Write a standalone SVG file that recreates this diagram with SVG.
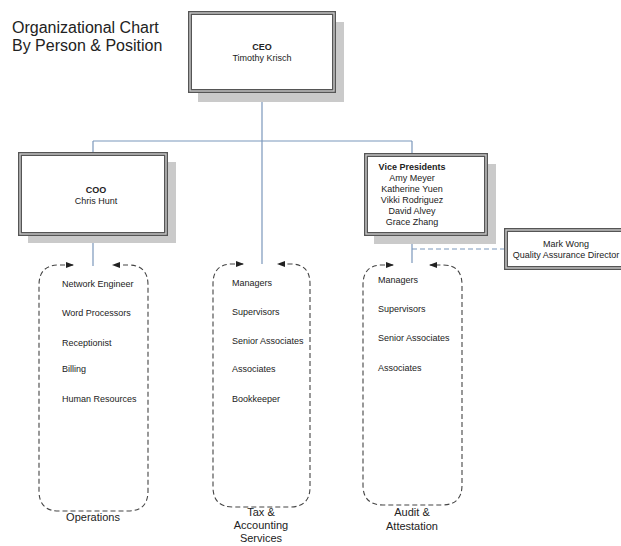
<svg xmlns="http://www.w3.org/2000/svg" width="621" height="546" viewBox="0 0 621 546">
<style>
text{font-family:"Liberation Sans",Arial,sans-serif;fill:#222}
.title{font-size:16px}
.bt{font-size:9px;text-anchor:middle}
.b{font-weight:bold}
.it{font-size:9px}
.lbl{font-size:11px;text-anchor:middle}
.sh{fill:#cacaca}
.o{fill:#fff;stroke:#555;stroke-width:4}
.i{fill:none;stroke:#c8c8c8;stroke-width:1.4}
.c{fill:none;stroke:#7b97bb;stroke-width:1.2}
.cd{fill:none;stroke:#7b97bb;stroke-width:1.2;stroke-dasharray:5 3}
.grp{fill:none;stroke:#444;stroke-width:1.1;stroke-dasharray:5 3;marker-start:url(#ar);marker-end:url(#ar)}
</style>
<defs>
<marker id="ar" markerUnits="userSpaceOnUse" markerWidth="8" markerHeight="6" refX="7" refY="3" orient="auto-start-reverse">
<path d="M0,0 L8,3 L0,6 z" fill="#222"/>
</marker>
</defs>
<rect width="621" height="546" fill="#fff"/>
<text class="title" x="12" y="33">Organizational Chart</text>
<text class="title" x="12" y="51">By Person &amp; Position</text>

<g id="connectors">
<path class="c" d="M262,91 V264"/>
<path class="c" d="M93,141 H412"/>
<path class="c" d="M93,141 V153"/>
<path class="c" d="M412,141 V155"/>
<path class="c" d="M93,234 V266"/>
<path class="c" d="M412,234 V263"/>
<path class="cd" d="M412,249 H505"/>
</g>

<g id="ceo">
<rect class="sh" x="198" y="22" width="146" height="80"/>
<rect class="o" x="190" y="13" width="144" height="78"/>
<rect class="i" x="190" y="13" width="144" height="78"/>
<text class="bt b" x="262" y="50">CEO</text>
<text class="bt" x="262" y="61">Timothy Krisch</text>
</g>

<g id="coo">
<rect class="sh" x="28" y="162" width="148" height="81"/>
<rect class="o" x="20" y="154" width="146" height="80"/>
<rect class="i" x="20" y="154" width="146" height="80"/>
<text class="bt b" x="96" y="193">COO</text>
<text class="bt" x="96" y="204">Chris Hunt</text>
</g>

<g id="vp">
<rect class="sh" x="374" y="164" width="122" height="80"/>
<rect class="o" x="366" y="155" width="120" height="79"/>
<rect class="i" x="366" y="155" width="120" height="79"/>
<text class="bt b" x="412" y="170">Vice Presidents</text>
<text class="bt" x="412" y="181">Amy Meyer</text>
<text class="bt" x="412" y="192">Katherine Yuen</text>
<text class="bt" x="412" y="203">Vikki Rodriguez</text>
<text class="bt" x="412" y="214">David Alvey</text>
<text class="bt" x="412" y="225">Grace Zhang</text>
</g>

<g id="markwong">
<rect class="o" x="506" y="230" width="130" height="38"/>
<rect class="i" x="506" y="230" width="130" height="38"/>
<text class="bt" x="566" y="247">Mark Wong</text>
<text class="bt" x="566" y="258">Quality Assurance Director</text>
</g>

<g id="operations">
<path class="grp" d="M73,265 H59 Q39,265 39,285 V491 Q39,511 59,511 H128 Q148,511 148,491 V285 Q148,265 128,265 H113"/>
<text class="it" x="62" y="287">Network Engineer</text>
<text class="it" x="62" y="316">Word Processors</text>
<text class="it" x="62" y="346">Receptionist</text>
<text class="it" x="62" y="372">Billing</text>
<text class="it" x="62" y="402">Human Resources</text>
<text class="lbl" x="93" y="521">Operations</text>
</g>

<g id="tax">
<path class="grp" d="M243,264 H232 Q213,264 213,284 V487 Q213,507 233,507 H290 Q310,507 310,487 V284 Q310,264 291,264 H278"/>
<text class="it" x="232" y="286">Managers</text>
<text class="it" x="232" y="315">Supervisors</text>
<text class="it" x="232" y="344">Senior Associates</text>
<text class="it" x="232" y="372">Associates</text>
<text class="it" x="232" y="402">Bookkeeper</text>
<text class="lbl" x="261" y="516">Tax &amp;</text>
<text class="lbl" x="261" y="529">Accounting</text>
<text class="lbl" x="261" y="542">Services</text>
</g>

<g id="audit">
<path class="grp" d="M393,265 H382 Q363,265 363,285 V485 Q363,505 383,505 H442 Q462,505 462,485 V285 Q462,265 443,265 H430"/>
<text class="it" x="378" y="283">Managers</text>
<text class="it" x="378" y="312">Supervisors</text>
<text class="it" x="378" y="341">Senior Associates</text>
<text class="it" x="378" y="371">Associates</text>
<text class="lbl" x="412" y="516">Audit &amp;</text>
<text class="lbl" x="412" y="530">Attestation</text>
</g>
</svg>
